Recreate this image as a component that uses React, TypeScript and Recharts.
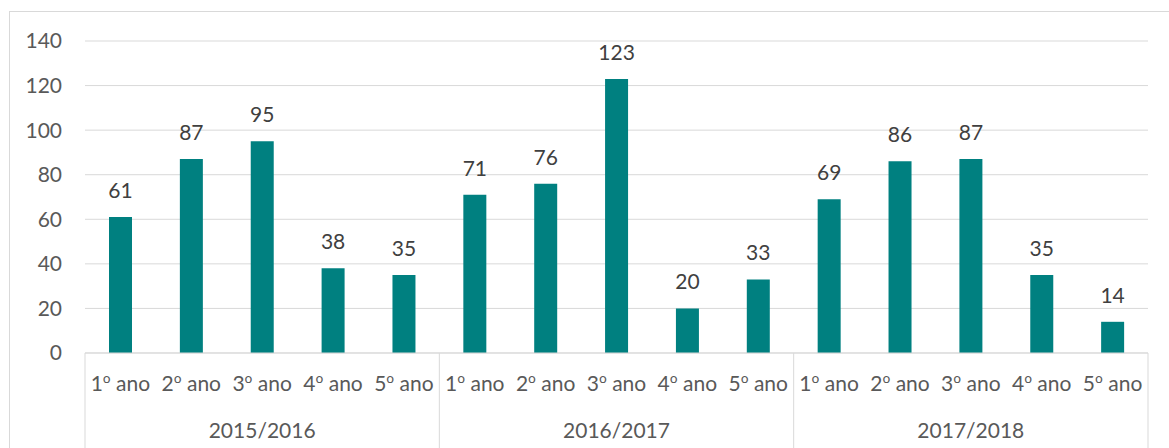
import React from "react";
import { BarChart, Bar, XAxis, YAxis, CartesianGrid, LabelList } from "recharts";

const schoolYears = ["2015/2016", "2016/2017", "2017/2018"];
const grades = ["1º ano", "2º ano", "3º ano", "4º ano", "5º ano"];
const values2015 = [61, 87, 95, 38, 35];
const values2016 = [71, 76, 123, 20, 33];
const values2017 = [69, 86, 87, 35, 14];
const yTicks = [0, 20, 40, 60, 80, 100, 120, 140];

const seriesByYear = [values2015, values2016, values2017];

const data = schoolYears.flatMap((yr, yi) =>
  grades.map((g, gi) => ({
    key: `${yr}-${g}`,
    grade: g,
    year: yr,
    value: seriesByYear[yi][gi],
  }))
);

const W = 1169;
const H = 448;
const M = { top: 41, right: 21, left: 0, bottom: 0 };
const Y_W = 85;
const X_H = 95;
const BAND = (W - M.left - M.right - Y_W) / data.length;

const FONT = "Lato, 'Open Sans', sans-serif";
const FS = 21;
const TEXT = "#595959";
const GRID = "#d9d9d9";
const TEAL = "#008080";

const renderGrade = (g: string) => {
  const i = g.indexOf("º");
  if (i < 0) return g;
  return (
    <>
      <tspan>{g.slice(0, i)}</tspan>
      <tspan fontFamily="'Open Sans', sans-serif" fontSize={FS}>º</tspan>
      <tspan>{g.slice(i + 1)}</tspan>
    </>
  );
};

const XTick = (props: any) => {
  const { x, y, payload, index } = props;
  const d = data[index] || data.find((e) => e.key === payload.value);
  const idx = data.indexOf(d);
  const posInGroup = idx % grades.length;
  const lines: any[] = [];
  if (posInGroup === 0) {
    lines.push(
      <line key="l" x1={x - BAND / 2} x2={x - BAND / 2} y1={y} y2={y + 120} stroke={GRID} strokeWidth={1} />
    );
  }
  if (idx === data.length - 1) {
    lines.push(
      <line key="r" x1={x + BAND / 2} x2={x + BAND / 2} y1={y} y2={y + 120} stroke={GRID} strokeWidth={1} />
    );
  }
  return (
    <g>
      {lines}
      <text x={x} y={y + 38} textAnchor="middle" fill={TEXT} fontSize={FS} fontFamily={FONT}>
        {d ? renderGrade(d.grade) : ""}
      </text>
      {posInGroup === 2 && d ? (
        <text x={x} y={y + 85} textAnchor="middle" fill={TEXT} fontSize={FS} fontFamily={FONT}>
          {d.year}
        </text>
      ) : null}
    </g>
  );
};

export default function App() {
  return (
    <div style={{ position: "absolute", left: 0, top: 0, width: W, height: H, overflow: "hidden", background: "#fff" }}>
      <div
        style={{
          position: "absolute",
          left: 9,
          top: 11,
          width: W - 9,
          height: H - 11,
          borderTop: `1px solid ${GRID}`,
          borderLeft: `1px solid ${GRID}`,
          boxSizing: "border-box",
        }}
      />
      <div style={{ position: "absolute", left: 0, top: 0 }}>
        <BarChart width={W} height={H} data={data} margin={M}>
          <CartesianGrid vertical={false} stroke={GRID} strokeWidth={1} />
          <YAxis
            width={Y_W}
            domain={[0, 140]}
            ticks={yTicks}
            axisLine={false}
            tickLine={false}
            tickSize={0}
            tickMargin={23}
            tick={{ fill: TEXT, fontSize: FS, fontFamily: FONT }}
          />
          <XAxis
            dataKey="key"
            height={X_H}
            interval={0}
            axisLine={{ stroke: GRID, strokeWidth: 1 }}
            tickLine={false}
            tickSize={0}
            tickMargin={0}
            tick={<XTick />}
          />
          <Bar dataKey="value" fill={TEAL} barSize={23} isAnimationActive={false}>
            <LabelList
              dataKey="value"
              position="top"
              offset={19}
              fill={"#404040"}
              fontSize={FS}
              fontFamily={FONT}
            />
          </Bar>
        </BarChart>
      </div>
    </div>
  );
}
